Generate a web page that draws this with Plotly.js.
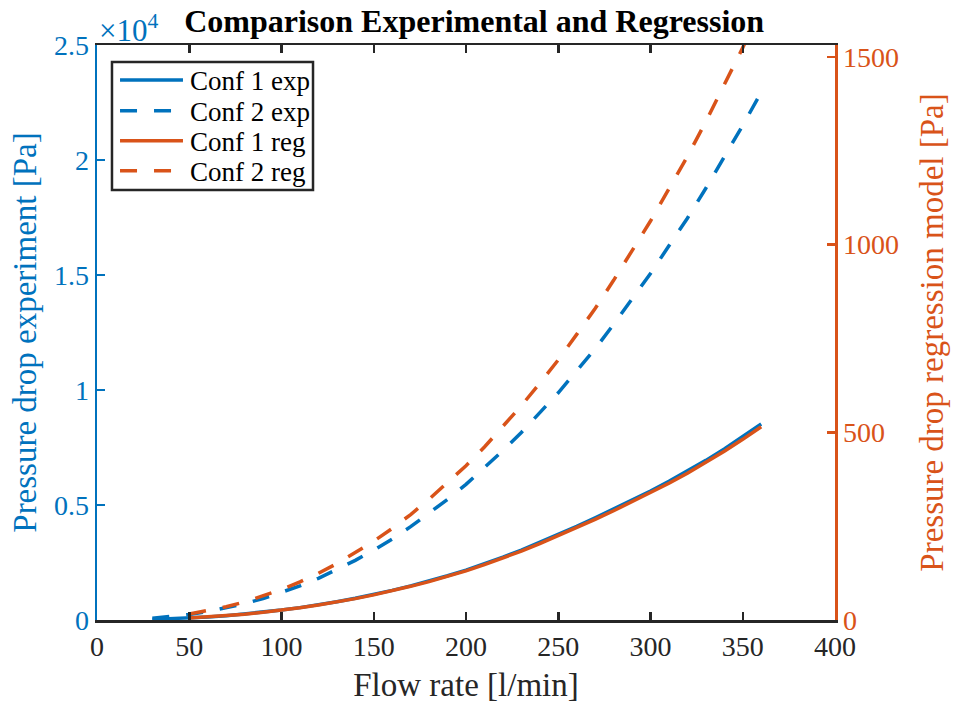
<!DOCTYPE html>
<html>
<head>
<meta charset="utf-8">
<script src="https://cdn.plot.ly/plotly-3.0.1.min.js"></script>
<style>html,body{margin:0;padding:0;background:#fff;}#chart{width:954px;height:707px;}</style>
</head>
<body>
<div id="chart"></div>
<script>
// Flow rate [l/min]
const flowExp = [30,40,50,60,70,80,90,100,110,120,130,140,150,160,170,180,190,200,210,220,230,240,250,260,270,280,290,300,310,320,330,340,350,360];
const flowReg = [50,60,70,80,90,100,110,120,130,140,150,160,170,180,190,200,210,220,230,240,250,260,270,280,290,300,310,320,330,340,350,360];

// Pressure drop experiment [Pa] (left axis)
const conf1Exp = [26,51,86,131,187,256,337,431,538,658,795,944,1109,1288,1484,1695,1923,2165,2440,2730,3040,3370,3715,4070,4440,4820,5210,5610,6030,6470,6940,7440,7970,8522];
const conf2Exp = [74,143,240,365,522,711,934,1190,1482,1812,2185,2592,3038,3523,4058,4629,5245,5898,6609,7362,8152,9003,9878,10830,11792,12850,13932,15066,16270,17468,18771,20112,21507,22944];

// Pressure drop regression model [Pa] (right axis)
const conf1Reg = [5.2,7.9,11.3,15.5,20.4,26.0,32.5,39.8,48.0,57.0,67.0,77.8,89.7,102.4,116.2,130.8,147.4,164.9,183.6,203.5,224.4,245.8,268.2,291.1,314.7,338.8,364.2,390.8,419.2,449.4,481.4,515];
const conf2Reg = [16,24.6,35.2,48.2,63.6,81.3,101.5,124.4,150.3,178.8,210,244,281,322,365,411,461,515,571,631,693,761,830,905,982,1063,1149,1235,1328,1425,1525,1629];

const seriesNames = ['Conf 1 exp', 'Conf 2 exp', 'Conf 1 reg', 'Conf 2 reg'];
const xTicks = [0,50,100,150,200,250,300,350,400];
const yLeftTicks = [0,5000,10000,15000,20000,25000];
const yLeftTickText = ['0','0.5','1','1.5','2','2.5'];
const yRightTicks = [0,500,1000,1500];

const BLUE = '#0072BD', ORANGE = '#D95319', DARK = '#262626';
const FONT = 'Liberation Serif, Times New Roman, serif';
const DASH = '17px,17px';

const styles = [
  {color: BLUE, dash: 'solid', axis: 'y'},
  {color: BLUE, dash: DASH, axis: 'y'},
  {color: ORANGE, dash: 'solid', axis: 'y2'},
  {color: ORANGE, dash: DASH, axis: 'y2'}
];
const xs = [flowExp, flowExp, flowReg, flowReg];
const ys = [conf1Exp, conf2Exp, conf1Reg, conf2Reg];

const traces = seriesNames.map((n, i) => ({
  x: xs[i], y: ys[i], name: n, type: 'scatter', mode: 'lines',
  line: {color: styles[i].color, width: 3.5, dash: styles[i].dash}, yaxis: styles[i].axis
}));

// Legend box drawn as shapes + text annotations (to match the compact MATLAB legend)
const legRowY = [0.9391, 0.8857, 0.8336, 0.7814];
const shapes = [
  {type: 'rect', xref: 'paper', yref: 'paper', x0: 0.0203, x1: 0.2927, y0: 0.7478, y1: 0.9704,
   fillcolor: '#fff', line: {color: DARK, width: 2.5}, layer: 'above'}
];
const annotations = [
  {text: '×10<sup>4</sup>', xref: 'paper', yref: 'paper', x: 0, y: 1, xanchor: 'left', yanchor: 'bottom',
   showarrow: false, font: {family: FONT, size: 31, color: BLUE}, yshift: -5}
];
seriesNames.forEach((n, i) => {
  shapes.push({type: 'line', xref: 'paper', yref: 'paper', x0: 0.0312, x1: 0.1165, y0: legRowY[i], y1: legRowY[i],
               line: {color: styles[i].color, width: 3.5, dash: styles[i].dash}, layer: 'above'});
  annotations.push({text: n, xref: 'paper', yref: 'paper', x: 0.1233, y: legRowY[i], xanchor: 'left', yanchor: 'middle',
                    showarrow: false, font: {family: FONT, size: 27, color: '#000'}, yshift: -1});
});

const layout = {
  width: 954, height: 707,
  margin: {l: 97, r: 119, t: 45, b: 87, pad: 0},
  paper_bgcolor: '#fff', plot_bgcolor: '#fff',
  font: {family: FONT, size: 28, color: DARK},
  showlegend: false,
  hovermode: false,
  title: {text: '<b>Comparison Experimental and Regression</b>', x: 0.497, xref: 'container', xanchor: 'center',
          y: 0.97, yref: 'container', yanchor: 'middle', font: {family: FONT, size: 32, color: '#000'}},
  xaxis: {
    range: [0, 400], tickvals: xTicks, ticktext: xTicks.map(String),
    showgrid: false, zeroline: false, showline: true, linecolor: DARK, linewidth: 2.5,
    mirror: 'ticks', ticks: 'inside', ticklen: 8, tickwidth: 2.5, tickcolor: DARK,
    tickfont: {family: FONT, size: 28, color: DARK},
    title: {text: 'Flow rate [l/min]', font: {family: FONT, size: 33, color: DARK}, standoff: 12},
    automargin: false
  },
  yaxis: {
    range: [0, 25000], tickvals: yLeftTicks, ticktext: yLeftTickText,
    showgrid: false, zeroline: false, showline: true, linecolor: BLUE, linewidth: 2.5,
    ticks: 'inside', ticklen: 8, tickwidth: 2.5, tickcolor: BLUE,
    tickfont: {family: FONT, size: 28, color: BLUE},
    title: {text: 'Pressure drop experiment [Pa]', font: {family: FONT, size: 33, color: BLUE}, standoff: 8},
    automargin: false
  },
  yaxis2: {
    range: [0, 1532], tickvals: yRightTicks, ticktext: yRightTicks.map(String),
    overlaying: 'y', side: 'right',
    showgrid: false, zeroline: false, showline: true, linecolor: ORANGE, linewidth: 2.5,
    ticks: 'inside', ticklen: 8, tickwidth: 2.5, tickcolor: ORANGE,
    tickfont: {family: FONT, size: 28, color: ORANGE},
    title: {text: 'Pressure drop regression model [Pa]', font: {family: FONT, size: 33, color: ORANGE}, standoff: 22},
    automargin: false
  },
  shapes: shapes,
  annotations: annotations
};

Plotly.newPlot('chart', traces, layout, {displayModeBar: false, staticPlot: true});
</script>
</body>
</html>
